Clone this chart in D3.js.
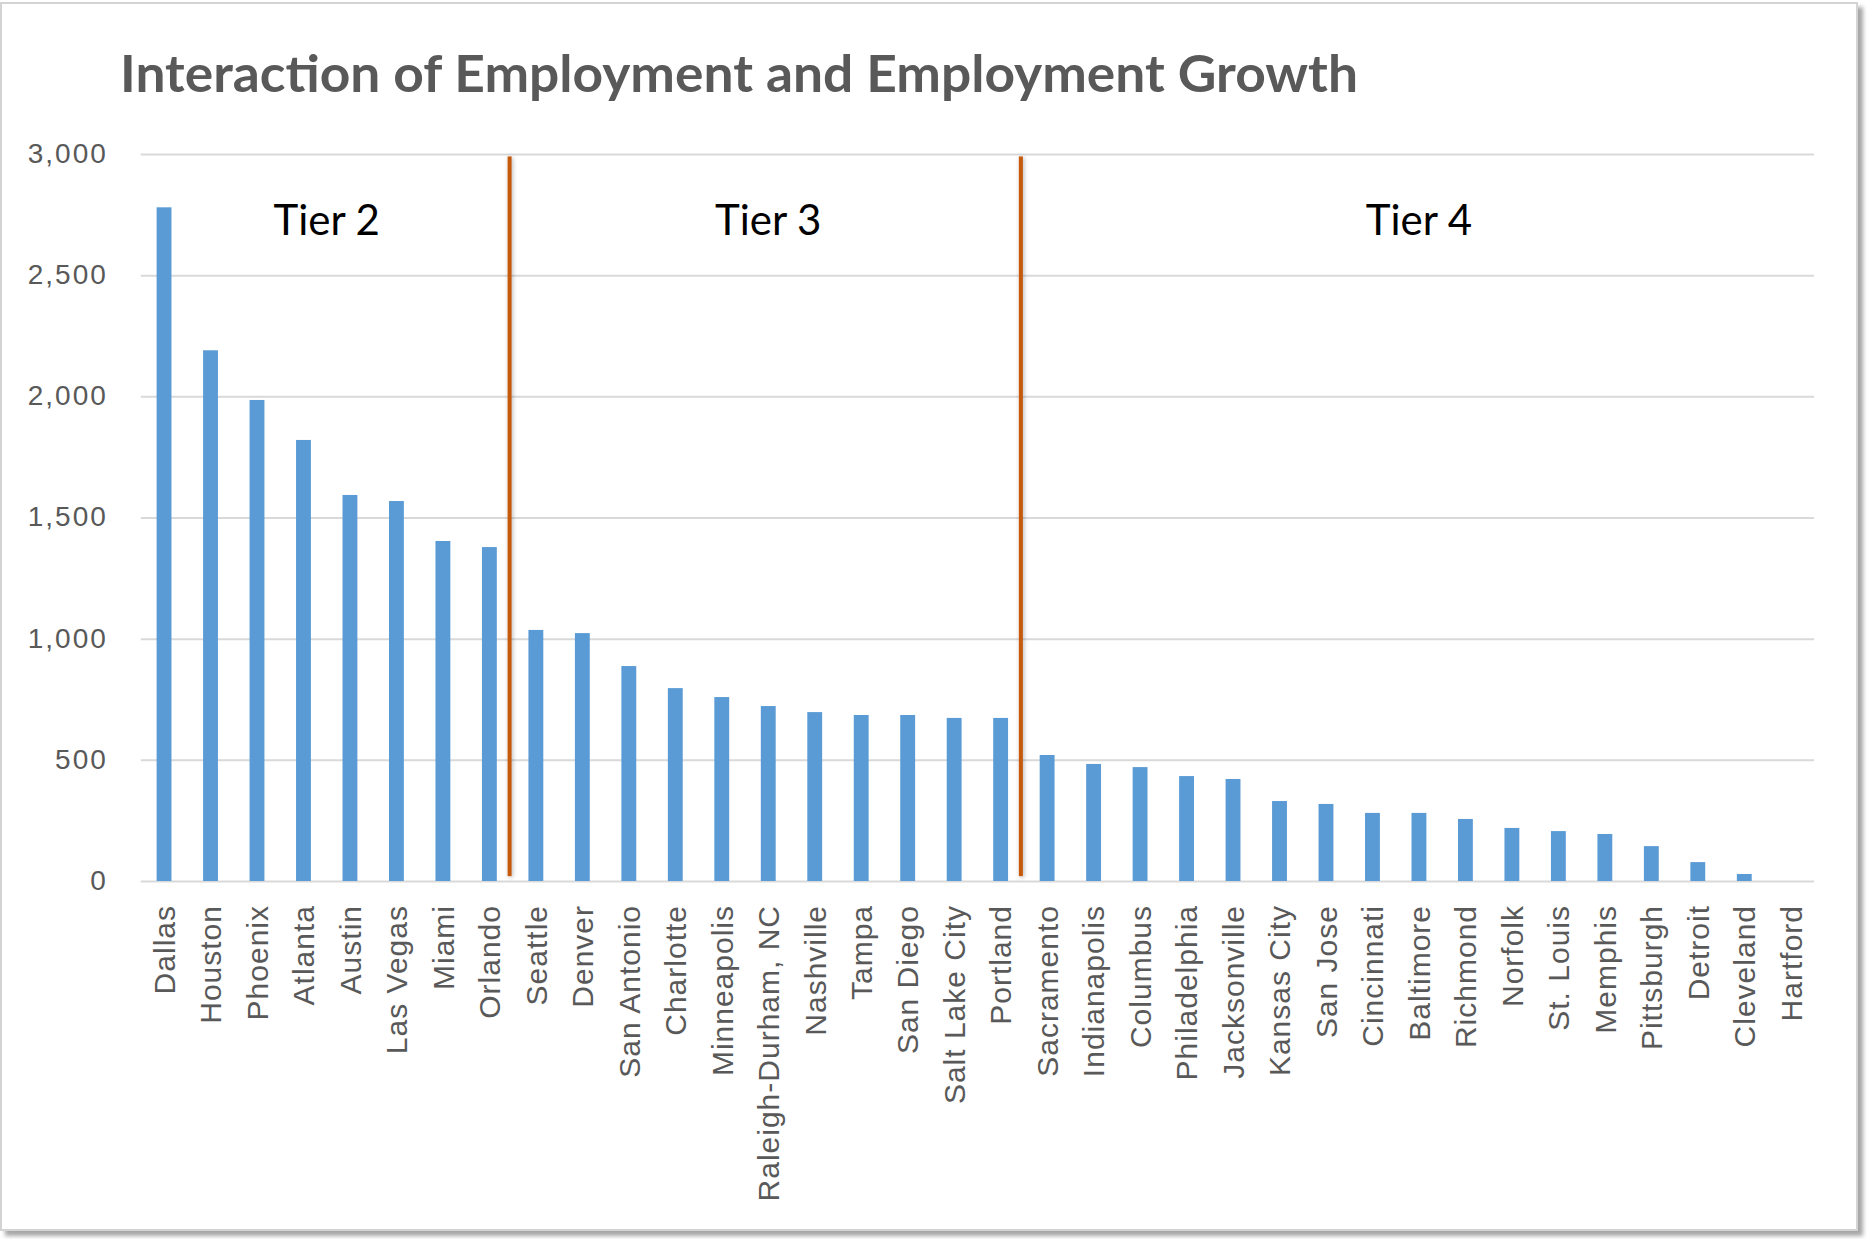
<!DOCTYPE html>
<html>
<head>
<meta charset="utf-8">
<script src="https://d3js.org/d3.v7.min.js"></script>
<style>
  body { margin: 0; background: #fff; }
  svg { display: block; }
</style>
</head>
<body>
<div id="chart"></div>
<script>
// data
var cities = ["Dallas", "Houston", "Phoenix", "Atlanta", "Austin", "Las Vegas", "Miami", "Orlando",
  "Seattle", "Denver", "San Antonio", "Charlotte", "Minneapolis", "Raleigh-Durham, NC", "Nashville",
  "Tampa", "San Diego", "Salt Lake City", "Portland",
  "Sacramento", "Indianapolis", "Columbus", "Philadelphia", "Jacksonville", "Kansas City", "San Jose",
  "Cincinnati", "Baltimore", "Richmond", "Norfolk", "St. Louis", "Memphis", "Pittsburgh", "Detroit",
  "Cleveland", "Hartford"];

var values = [2780, 2190, 1985, 1820, 1593, 1568, 1403, 1378,
  1036, 1023, 887, 796, 759, 722, 697, 685, 685, 673, 673,
  520, 483, 470, 433, 421, 330, 318, 281, 281, 256, 219, 206, 194, 144, 78, 29, 0];

var tierNames = ["Tier 2", "Tier 3", "Tier 4"];
var tierFirst = ["Dallas", "Seattle", "Sacramento"];
var tierLast = ["Orlando", "Portland", "Hartford"];

var yTicks = [0, 500, 1000, 1500, 2000, 2500, 3000];

var width = 1870, height = 1239;

var svg = d3.select("#chart").append("svg")
  .attr("width", width)
  .attr("height", height);

var defs = svg.append("defs");
defs.append("filter").attr("id", "frameShadow")
  .attr("x", "-2%").attr("y", "-2%").attr("width", "104%").attr("height", "104%")
  .append("feDropShadow")
  .attr("dx", 5).attr("dy", 5).attr("stdDeviation", 2)
  .attr("flood-color", "#000").attr("flood-opacity", 0.35);
// user space units, a bbox filter on a thin shape can vanish
defs.append("filter").attr("id", "lineShadow")
  .attr("filterUnits", "userSpaceOnUse")
  .attr("x", 0).attr("y", 0).attr("width", width).attr("height", height)
  .append("feDropShadow")
  .attr("dx", 1).attr("dy", 1).attr("stdDeviation", 2)
  .attr("flood-color", "#000").attr("flood-opacity", 0.3);

// chart frame
svg.append("rect")
  .attr("x", 1).attr("y", 3)
  .attr("width", 1856).attr("height", 1227)
  .style("fill", "#fff")
  .style("stroke", "#d4d4d4")
  .style("stroke-width", 2)
  .attr("filter", "url(#frameShadow)");

var x = d3.scaleBand()
  .domain(cities)
  .range([140.8, 1814])
  .paddingInner(0.68)
  .paddingOuter(0.34);

var y = d3.scaleLinear()
  .domain([0, 3000])
  .range([881, 154]);

// title
svg.append("text")
  .attr("x", 120)
  .attr("y", 92)
  .attr("textLength", 1238)
  .attr("lengthAdjust", "spacingAndGlyphs")
  .style("font-family", "Lato, 'Open Sans', sans-serif")
  .style("font-weight", "bold")
  .style("font-size", "51px")
  .style("fill", "#595959")
  .text("Interaction of Employment and Employment Growth");

// gridlines + y labels
var yAxis = svg.append("g")
  .attr("transform", "translate(140.8,0)")
  .call(d3.axisLeft(y).tickValues(yTicks).tickFormat(d3.format(",")).tickSize(-(1814 - 140.8)).tickPadding(33));

yAxis.select(".domain").remove();
yAxis.selectAll(".tick line")
  .style("stroke", "#d9d9d9")
  .style("stroke-width", 2);
yAxis.selectAll(".tick text")
  .style("font-family", "'Liberation Sans', Arial, sans-serif")
  .style("font-size", "28px")
  .style("letter-spacing", "2px")
  .style("fill", "#595959")
  .attr("dy", "0.3em");

// bars
svg.append("g").selectAll("rect")
  .data(cities)
  .enter()
  .append("rect")
  .attr("x", d => x(d))
  .attr("width", x.bandwidth())
  .attr("y", (d, i) => y(values[i]))
  .attr("height", (d, i) => y(0) - y(values[i]))
  .style("fill", "#5b9bd5");

// category labels, rotated
svg.append("g").selectAll("text")
  .data(cities)
  .enter()
  .append("text")
  .attr("transform", d => "translate(" + (x(d) + x.bandwidth() / 2) + ",905) rotate(-90)")
  .attr("text-anchor", "end")
  .attr("dy", "0.36em")
  .style("font-family", "'Liberation Sans', Arial, sans-serif")
  .style("font-size", "30px")
  .style("letter-spacing", "1px")
  .style("fill", "#595959")
  .text(d => d);

// tier separators
var step = x.step();
var gap = (step - x.bandwidth()) / 2;
var separators = tierFirst.slice(1).map(c => x(c) - gap);

svg.append("g").selectAll("rect")
  .data(separators)
  .enter()
  .append("rect")
  .attr("x", d => d - 5)
  .attr("width", 4)
  .attr("y", y(2990))
  .attr("height", y(20) - y(2990))
  .style("fill", "#c55a11")
  .attr("filter", "url(#lineShadow)");

// tier labels
svg.append("g").selectAll("text")
  .data(tierNames)
  .enter()
  .append("text")
  .attr("x", (d, i) => {
    var a = x(tierFirst[i]) - gap;
    var b = x(tierLast[i]) + x.bandwidth() + gap;
    return (a + b) / 2;
  })
  .attr("y", 235)
  .attr("text-anchor", "middle")
  .style("font-family", "Lato, 'Open Sans', sans-serif")
  .style("font-size", "42px")
  .style("fill", "#000")
  .text(d => d);
</script>
</body>
</html>
